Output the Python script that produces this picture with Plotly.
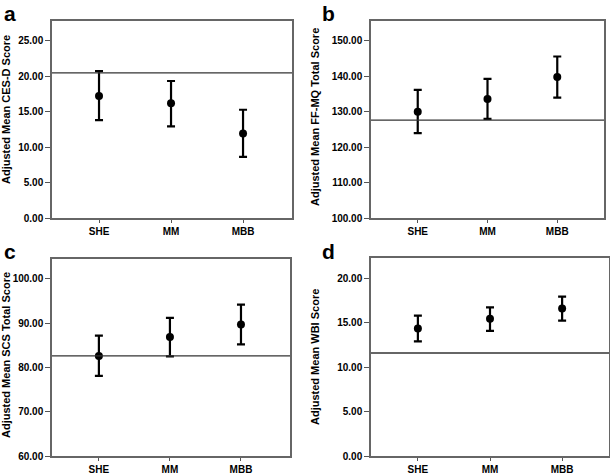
import plotly.graph_objects as go

groups = ["SHE", "MM", "MBB"]

# panel a: CES-D
cesd_mean = [17.2, 16.15, 11.9]
cesd_hi = [20.7, 19.3, 15.25]
cesd_lo = [13.8, 12.9, 8.6]
cesd_ref = 20.45

# panel b: FF-MQ
ffmq_mean = [129.9, 133.5, 139.7]
ffmq_hi = [136.1, 139.2, 145.5]
ffmq_lo = [123.9, 127.9, 133.9]
ffmq_ref = 127.6

# panel c: SCS
scs_mean = [82.6, 86.9, 89.7]
scs_hi = [87.2, 91.2, 94.2]
scs_lo = [78.1, 82.5, 85.2]
scs_ref = 82.6

# panel d: WBI
wbi_mean = [14.35, 15.45, 16.6]
wbi_hi = [15.8, 16.75, 17.95]
wbi_lo = [12.9, 14.1, 15.25]
wbi_ref = 11.6

W, H = 610, 474
FONT = "Liberation Sans, Arial, sans-serif"

panels = [
    dict(letter="a", mean=cesd_mean, hi=cesd_hi, lo=cesd_lo, ref=cesd_ref,
         title="Adjusted Mean CES-D Score", yr=[0, 27.75], dt=5,
         box=(52, 292, 21, 218), xr=[-0.653, 2.68], tx=6, ty=110, lx=2, ly=0),
    dict(letter="b", mean=ffmq_mean, hi=ffmq_hi, lo=ffmq_lo, ref=ffmq_ref,
         title="Adjusted Mean FF-MQ Total Score", yr=[100, 155.5], dt=10,
         box=(371, 604, 21, 218), xr=[-0.67, 2.67], tx=315, ty=117, lx=320, ly=0),
    dict(letter="c", mean=scs_mean, hi=scs_hi, lo=scs_lo, ref=scs_ref,
         title="Adjusted Mean SCS Total Score", yr=[60, 104.5], dt=10,
         box=(52, 290, 259, 456), xr=[-0.66, 2.69], tx=6, ty=355, lx=2, ly=238),
    dict(letter="d", mean=wbi_mean, hi=wbi_hi, lo=wbi_lo, ref=wbi_ref,
         title="Adjusted Mean WBI Score", yr=[0, 22.3], dt=5,
         box=(371, 609, 258, 456), xr=[-0.65, 2.65], tx=315, ty=357, lx=320, ly=238),
]

fig = go.Figure()
layout = dict(width=W, height=H, margin=dict(l=0, r=0, t=0, b=0),
              paper_bgcolor="white", plot_bgcolor="white", showlegend=False,
              font=dict(family=FONT, color="black"))
annotations = []
shapes = []

for i, p in enumerate(panels):
    n = "" if i == 0 else str(i + 1)
    x0, x1, y0, y1 = p["box"]
    err_plus = [h - m for h, m in zip(p["hi"], p["mean"])]
    err_minus = [m - l for m, l in zip(p["mean"], p["lo"])]
    fig.add_trace(go.Scatter(
        x=[0, 1, 2], y=p["mean"], mode="markers",
        marker=dict(color="black", size=8),
        error_y=dict(type="data", symmetric=False, array=err_plus,
                     arrayminus=err_minus, color="black", thickness=2.2, width=4),
        xaxis="x" + n, yaxis="y" + n, cliponaxis=False))
    lo_t = p["yr"][0]
    ticks = []
    v = lo_t
    while v <= p["yr"][1] + 1e-9:
        ticks.append(v)
        v += p["dt"]
    layout["xaxis" + n] = dict(
        domain=[x0 / W, x1 / W], range=p["xr"], anchor="y" + n, automargin=False,
        tickvals=[0, 1, 2], ticktext=groups, ticks="outside", ticklen=3,
        tickwidth=1.2, tickcolor="#555", showline=True, linecolor="#666",
        linewidth=1.5, mirror=True, showgrid=False, zeroline=False,
        tickfont=dict(family=FONT, size=10, color="black", weight="bold"))
    layout["yaxis" + n] = dict(
        domain=[1 - y1 / H, 1 - y0 / H], range=p["yr"], anchor="x" + n, automargin=False,
        tickvals=ticks, ticktext=["%.2f" % t for t in ticks],
        ticks="outside", ticklen=5, tickwidth=1.2, tickcolor="#555",
        showline=True, linecolor="#666", linewidth=1.5, mirror=True,
        showgrid=False, zeroline=False,
        tickfont=dict(family=FONT, size=10, color="black", weight="bold"))
    shapes.append(dict(type="line", xref="x" + n + " domain", yref="y" + n,
                       x0=0, x1=1, y0=p["ref"], y1=p["ref"],
                       line=dict(color="#333", width=1.3)))
    annotations.append(dict(text=p["title"], textangle=-90, xref="paper", yref="paper",
                            x=p["tx"] / W, y=1 - p["ty"] / H, showarrow=False,
                            xanchor="center", yanchor="middle",
                            font=dict(family=FONT, size=11, color="black", weight="bold")))
    annotations.append(dict(text=p["letter"], xref="paper", yref="paper",
                            x=p["lx"] / W, y=1 - p["ly"] / H, showarrow=False,
                            xanchor="left", yanchor="top",
                            font=dict(family=FONT, size=21, color="black", weight="bold")))

layout["annotations"] = annotations
layout["shapes"] = shapes
fig.update_layout(**layout)
# drop the page's default body margin so the figure sits at the window's corner
fig.write_html("out.html", config={"displayModeBar": False},
               post_script="document.body.style.margin='0';")
